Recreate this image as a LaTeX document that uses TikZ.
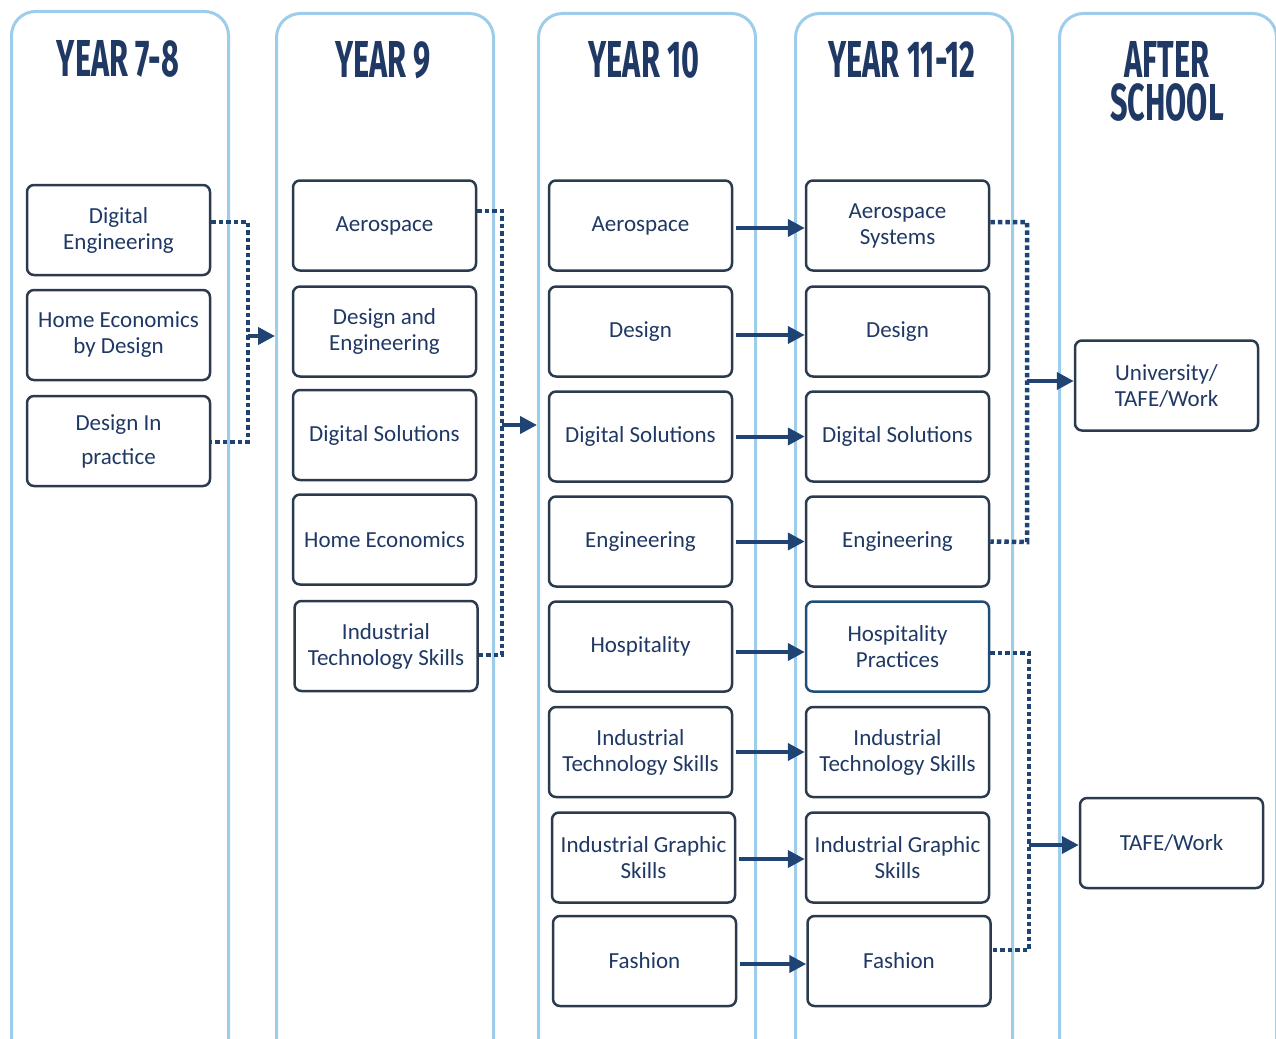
\documentclass[tikz,border=0pt]{standalone}
\usepackage{fontspec}
\setmainfont{Carlito}
\newfontfamily\headfont[FakeStretch=0.59]{Fira Sans}
\usetikzlibrary{arrows.meta,calc}
\definecolor{navy}{HTML}{1F3864}
\definecolor{boxc}{HTML}{2C3A4D}
\definecolor{hospc}{HTML}{1F4E79}
\definecolor{colc}{HTML}{9DCDEB}
\definecolor{arrc}{HTML}{1F4474}
\tikzset{
  colbox/.style={draw=colc, line width=3pt, rounded corners=24pt, minimum width=217pt, minimum height=1100pt, anchor=north west, inner sep=0pt},
  head/.style={font=\headfont\bfseries\fontsize{52}{43}\selectfont, text=navy, anchor=north, inner sep=0pt, align=center},
  item/.style={draw=boxc, line width=2.5pt, rounded corners=7pt, minimum width=183pt, minimum height=90pt, align=center, text=navy, font=\fontsize{23}{26}\selectfont, inner sep=2pt},
  arr/.style={draw=arrc, line width=4pt, -{Triangle[length=17pt,width=17pt]}},
  dotc/.style={draw=arrc, line width=4.5pt, dash pattern=on 4.5pt off 3pt},
}
\begin{document}
\begin{tikzpicture}[x=1pt,y=-1pt]
\useasboundingbox (0,0) rectangle (1276,1038);
\clip (0,0) rectangle (1276,1038);
% columns
\node[colbox] (col1) at (10,10) {};
\node[colbox] (col2) at (275,12) {};
\node[colbox] (col3) at (537,12) {};
\node[colbox] (col4) at (794,12) {};
\node[colbox] (col5) at (1058,12) {};
% headers
\node[head] (h1) at (118,40) {YEAR 7-8};
\node[head] (h2) at (383,41) {YEAR 9};
\node[head] (h3) at (644,41) {YEAR 10};
\node[head] (h4) at (902,41) {YEAR 11-12};
\node[head] (h5) at (1167,41) {AFTER\\SCHOOL};
% column 1
\node[item] (de)  at (118.5,230) {Digital\\Engineering};
\node[item] (heb) at (118.5,335) {Home Economics\\by Design};
\node[item] (dip) at (118.5,441) {Design In\\[8pt]practice};
% column 2
\node[item] (a9)  at (384.5,225.5) {Aerospace};
\node[item] (dae) at (384.5,331.5) {Design and\\Engineering};
\node[item] (ds9) at (384.5,435) {Digital Solutions};
\node[item] (he9) at (384.5,539.5) {Home Economics};
\node[item] (it9) at (386,646) {Industrial\\Technology Skills};
% column 3
\node[item] (a10)  at (640.5,225.5) {Aerospace};
\node[item] (d10)  at (640.5,331.5) {Design};
\node[item] (ds10) at (640.5,436.5) {Digital Solutions};
\node[item] (e10)  at (640.5,541.5) {Engineering};
\node[item] (h10)  at (640.5,646.5) {Hospitality};
\node[item] (it10) at (640.5,752) {Industrial\\Technology Skills};
\node[item] (ig10) at (643.5,857.5) {Industrial Graphic\\Skills};
\node[item] (f10)  at (644.5,961) {Fashion};
% column 4
\node[item] (a11)  at (897.5,225.5) {Aerospace\\Systems};
\node[item] (d11)  at (897.5,331.5) {Design};
\node[item] (ds11) at (897.5,436.5) {Digital Solutions};
\node[item] (e11)  at (897.5,541.5) {Engineering};
\node[item, draw=hospc] (h11) at (897.5,646.5) {Hospitality\\Practices};
\node[item] (it11) at (897.5,752) {Industrial\\Technology Skills};
\node[item] (ig11) at (897.5,857.5) {Industrial Graphic\\Skills};
\node[item] (f11)  at (899,961) {Fashion};
% column 5
\node[item] (uni)  at (1166.5,385.5) {University/\\TAFE/Work};
\node[item] (tafe) at (1171.5,843) {TAFE/Work};
% solid arrows year 10 -> 11-12
\foreach \s/\t/\dy in {a10/a11/2.5, d10/d11/3.5, ds10/ds11/0, e10/e11/0, h10/h11/5.5, it10/it11/0, ig10/ig11/1.5, f10/f11/3}{
  \coordinate (p) at ($(\s.east)+(3,\dy)$);
  \draw[arr] (p) -- (p -| \t.west);
}
% dotted groups
\coordinate (j1) at (248,336);
\draw[dotc] ([yshift=8pt]de.east) -- (248,222) -- (248,442) -- ([yshift=-1pt]dip.east);
\draw[arr] (j1) -- (j1 -| col2.west);
\coordinate (j2) at (502,425);
\draw[dotc] ([yshift=14.5pt]a9.east) -- (502,211) -- (502,655) -- ([yshift=-9pt]it9.east);
\draw[arr] (j2) -- (j2 -| col3.west);
\coordinate (j3) at (1027,381);
\draw[dotc] ([yshift=3.5pt]a11.east) -- (1027,222) -- (1027,542) -- (e11.east);
\draw[arr] (j3) -- (j3 -| uni.west);
\coordinate (j4) at (1029,845);
\draw[dotc] ([yshift=-6.5pt]h11.east) -- (1029,653) -- (1029,950) -- ([yshift=11pt]f11.east);
\draw[arr] (j4) -- (j4 -| tafe.west);
\end{tikzpicture}
\end{document}
